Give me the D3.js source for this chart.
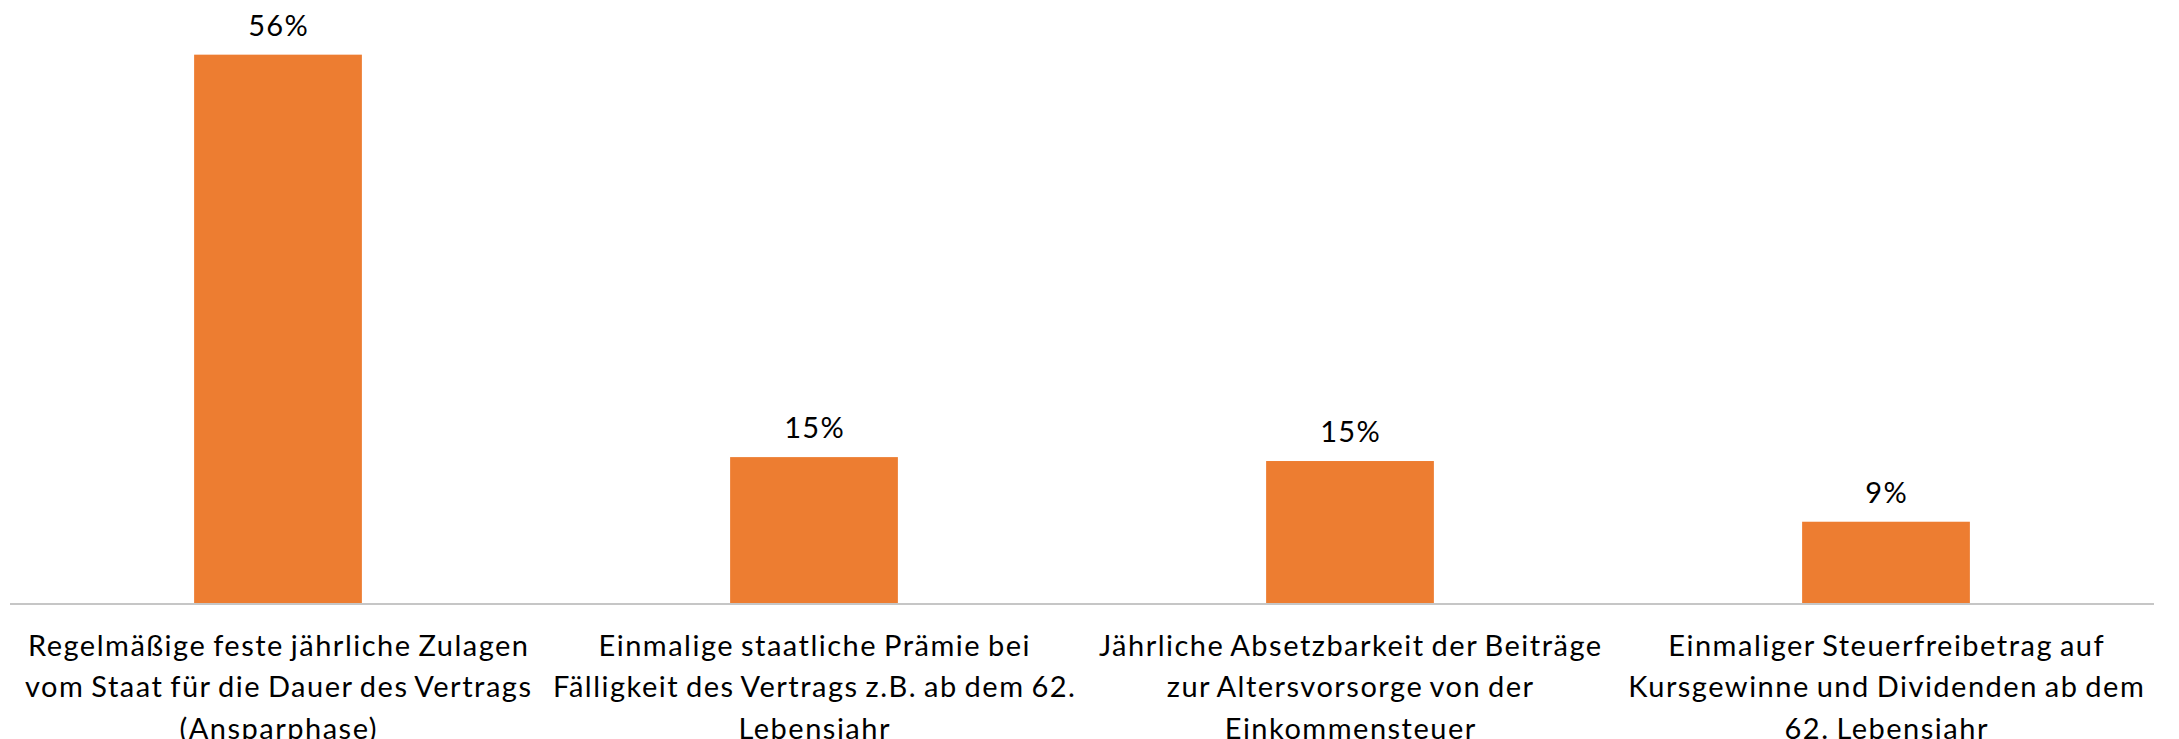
<!DOCTYPE html>
<html>
<head>
<meta charset="utf-8">
<script src="https://cdn.jsdelivr.net/npm/d3@7"></script>
<style>
  html, body { margin: 0; padding: 0; background: #fff; }
  .label { font-family: Lato, "Open Sans", sans-serif; fill: #000; }
</style>
</head>
<body>
<div class="BarViz"></div>
<script>
// categories (line breaks as in the original chart)
var categories = [
  ["Regelmäßige feste jährliche Zulagen", "vom Staat für die Dauer des Vertrags", "(Ansparphase)"],
  ["Einmalige staatliche Prämie bei", "Fälligkeit des Vertrags z.B. ab dem 62.", "Lebensjahr"],
  ["Jährliche Absetzbarkeit der Beiträge", "zur Altersvorsorge von der", "Einkommensteuer"],
  ["Einmaliger Steuerfreibetrag auf", "Kursgewinne und Dividenden ab dem", "62. Lebensjahr"]
];
var values = [56, 14.9, 14.5, 8.3];
var valueLabels = ["56%", "15%", "15%", "9%"];

function drawBarChart() {
  var width = 2179, height = 739;

  var svg = d3.select(".BarViz")
    .append("svg")
    .attr("width", width)
    .attr("height", height);

  // scales
  var x = d3.scaleBand()
    .domain(d3.range(values.length))
    .range([10, 2154])
    .paddingInner(0.687)
    .paddingOuter(0.3435);

  var y = d3.scaleLinear().domain([0, 60]).range([603, 15.5]);

  // bars
  svg.selectAll(".bar")
    .data(values)
    .enter()
    .append("rect")
    .attr("class", "bar")
    .attr("fill", "#ED7D31")
    .attr("x", function (d, i) { return x(i); })
    .attr("y", function (d) { return y(d); })
    .attr("width", x.bandwidth())
    .attr("height", function (d) { return y(0) - y(d); });

  // baseline
  svg.append("line")
    .attr("x1", x.range()[0])
    .attr("x2", x.range()[1])
    .attr("y1", y(0) + 1)
    .attr("y2", y(0) + 1)
    .attr("stroke", "#c6c6c6")
    .attr("stroke-width", 2);

  // value labels
  svg.selectAll(".vlabel")
    .data(values)
    .enter()
    .append("text")
    .attr("class", "label")
    .attr("text-anchor", "middle")
    .attr("font-size", 29)
    .attr("letter-spacing", 1.2)
    .attr("x", function (d, i) { return x(i) + x.bandwidth() / 2 + 0.6; })
    .attr("y", function (d) { return y(d) - 19; })
    .text(function (d, i) { return valueLabels[i]; });

  // category labels
  var cat = svg.selectAll(".cat")
    .data(categories)
    .enter()
    .append("text")
    .attr("class", "label")
    .attr("text-anchor", "middle")
    .attr("font-size", 29)
    .attr("letter-spacing", 1.5)
    .attr("word-spacing", -2);

  cat.selectAll("tspan")
    .data(function (d, i) { return d.map(function (t) { return { t: t, i: i }; }); })
    .enter()
    .append("tspan")
    .attr("x", function (d) { return x(d.i) + x.bandwidth() / 2 + 0.75; })
    .attr("y", function (d, j) { return 656 + j * 41.3; })
    .text(function (d) { return d.t; });
}

drawBarChart();
</script>
</body>
</html>
